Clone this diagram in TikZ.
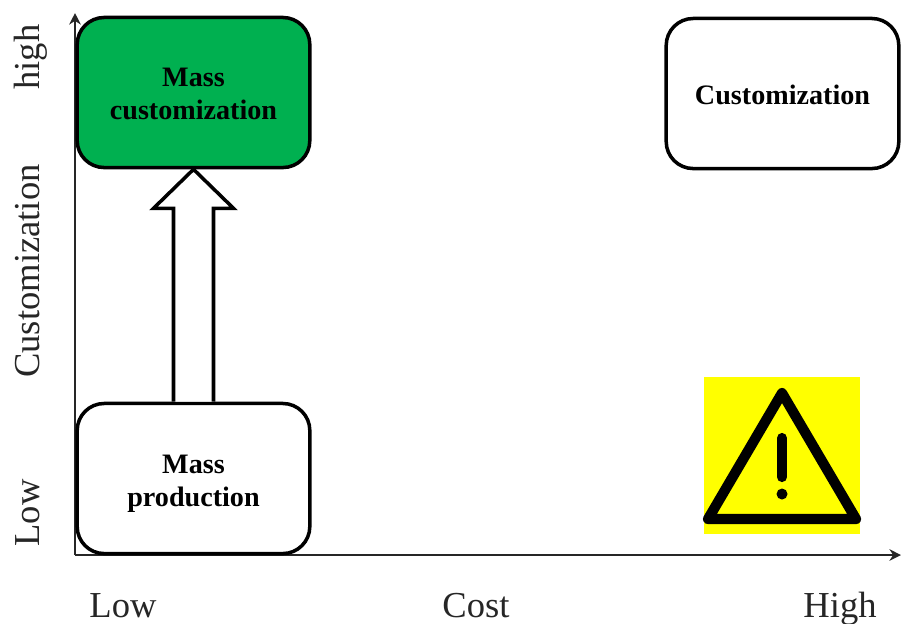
\documentclass[tikz,border=0pt]{standalone}
\usepackage{fontspec}
\setmainfont{Liberation Serif}
\usetikzlibrary{arrows.meta,calc}
\definecolor{boxgreen}{HTML}{00B050}
\definecolor{signyellow}{HTML}{FFFF00}
\definecolor{axistext}{HTML}{262626}
\tikzset{
	quadrant/.style={draw=black,line width=1pt,rounded corners=0.27cm,minimum width=2.325cm,minimum height=1.5cm,align=center,font=\fontsize{8}{9.4}\selectfont\bfseries},
	axislabel/.style={text=axistext,font=\fontsize{10.4}{12}\selectfont,inner sep=0pt,anchor=base},
	axisline/.style={draw=black!85,line width=0.45pt,-{Stealth[length=3.3pt,width=3.3pt]}}
}
\begin{document}
\begin{tikzpicture}[x=0.01cm,y=-0.01cm]
		\useasboundingbox (0,0) rectangle (901,623);
		% axes
		\coordinate (origin) at (75,555);
		\coordinate (ytip) at (75,13);
		\coordinate (xtip) at (901,555);
		\draw[axisline] (origin) -- (ytip);
		\draw[axisline] (origin) -- (xtip);
		% quadrants
		\node[quadrant,fill=boxgreen,text height=15.6pt] (masscustom) at (193.5,92.5) {Mass\\customization};
		\node[quadrant,fill=white,text height=6.2pt] (custom) at (782.5,93.5) {Customization};
		\node[quadrant,fill=white,text height=17.85pt] (massprod) at (193.5,478.5) {Mass\\production};
		% block arrow
		\draw[line width=1pt,fill=white,line join=miter] ($(massprod.north)+(-20,0)$) -- ($(masscustom.south)+(-20,39)$) -- ($(masscustom.south)+(-40,39)$) -- (masscustom.south) -- ($(masscustom.south)+(40,39)$) -- ($(masscustom.south)+(20,39)$) -- ($(massprod.north)+(20,0)$);
		% warning sign
		\fill[signyellow] (704,377) rectangle (860,534);
		\draw[line width=2.9pt,line join=round] (782,393) -- (856,519) -- (708,519) -- cycle;
		\draw[line width=2.9pt,line cap=round] (782,438) -- (782,477);
		\fill (782,494) circle (5.5);
		% labels
		\node[axislabel,rotate=90] (lblhigh) at (39,57) {high};
		\node[axislabel,rotate=90] (lblcustom) at (39,271) {Customization};
		\node[axislabel,rotate=90] (lbllowy) at (39,513) {Low};
		\node[axislabel] (lbllowx) at (123,617) {Low};
		\node[axislabel] (lblcost) at (476,617) {Cost};
		\node[axislabel] (lblhighx) at (840,617) {High};
	\end{tikzpicture}
\end{document}
